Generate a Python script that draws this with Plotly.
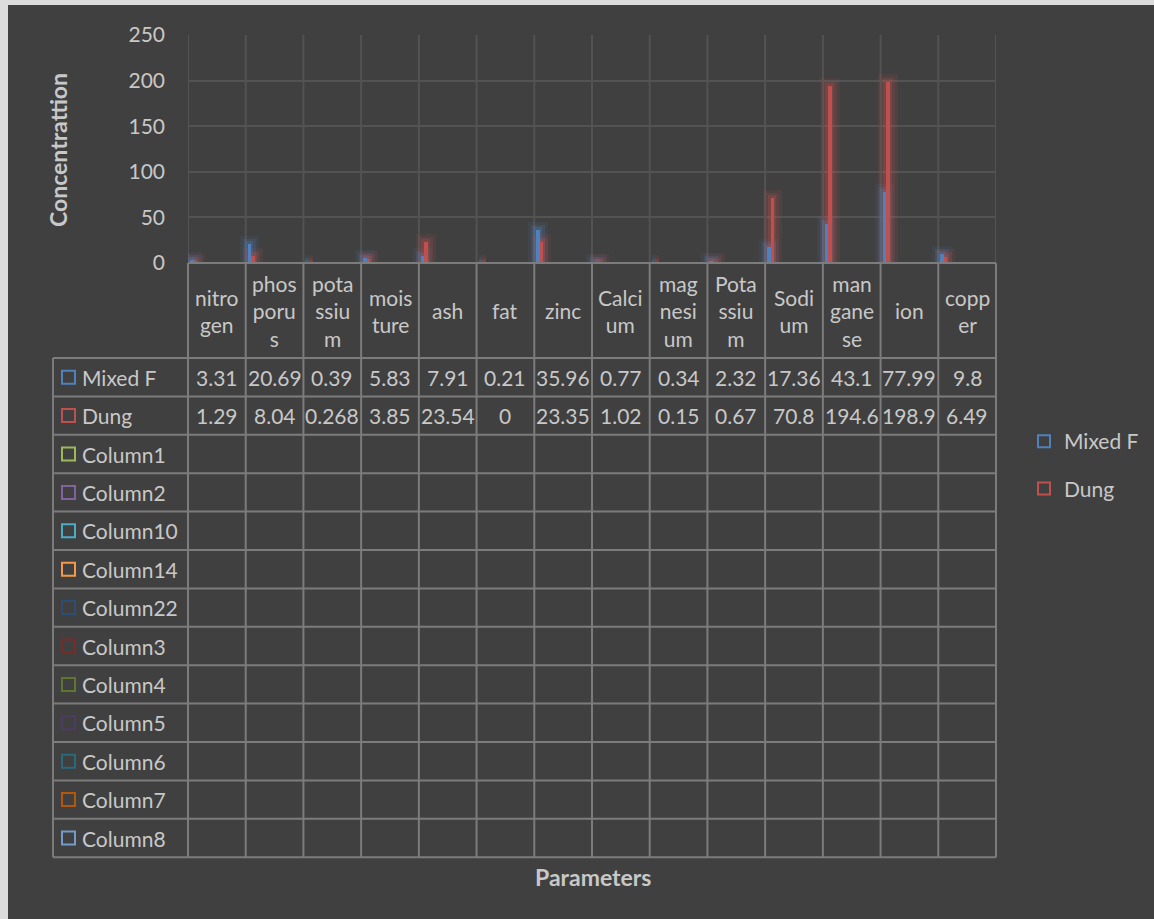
import plotly.graph_objects as go

# ---- data -------------------------------------------------------------
categories = ["nitrogen", "phosporus", "potassium", "moisture", "ash", "fat", "zinc",
              "Calcium", "magnesium", "Potassium", "Sodium", "manganese", "ion", "copper"]
header_labels = ["nitro<br>gen", "phos<br>poru<br>s", "pota<br>ssiu<br>m", "mois<br>ture",
                 "ash", "fat", "zinc", "Calci<br>um", "mag<br>nesi<br>um", "Pota<br>ssiu<br>m",
                 "Sodi<br>um", "man<br>gane<br>se", "ion", "copp<br>er"]
mixed_f = [3.31, 20.69, 0.39, 5.83, 7.91, 0.21, 35.96, 0.77, 0.34, 2.32, 17.36, 43.1, 77.99, 9.8]
dung = [1.29, 8.04, 0.268, 3.85, 23.54, 0, 23.35, 1.02, 0.15, 0.67, 70.8, 194.6, 198.9, 6.49]
table_rows = ["Mixed F", "Dung", "Column1", "Column2", "Column10", "Column14", "Column22",
              "Column3", "Column4", "Column5", "Column6", "Column7", "Column8"]
row_colors = ["#4F81BD", "#C0504D", "#9BBB59", "#8064A2", "#4BACC6", "#F79646", "#2C4D75",
              "#772C2A", "#5F7530", "#4D3B62", "#276A7C", "#B65708", "#729ACA"]
y_ticks = [0, 50, 100, 150, 200, 250]

# ---- geometry (pixels) ------------------------------------------------
W, H = 1154, 919
L, R, T, B = 188, 158, 35, 656
PW, PH = W - L - R, H - T - B
TABLE_LEFT = 53
HEADER_BOTTOM = 358
ROW_H = 38.4
TABLE_BOTTOM = HEADER_BOTTOM + ROW_H * len(table_rows)

BG = "#404040"
TXT = "#c8c8c8"
GRID = "#535353"
TLINE = "#7c7c7c"
FONT = "Lato"
FS = 21


def px(x):
    return (x - L) / PW


def py(y):
    return (T + PH - y) / PH


n = len(categories)
bar_w = 0.062
off_blue = -0.465
off_red = off_blue + bar_w

fig = go.Figure()

# soft glow behind each bar
for vals, col, off in [(mixed_f, "79,129,189", off_blue), (dung, "192,80,77", off_red)]:
    for lw, a in [(16, 0.10), (10, 0.16), (5, 0.25)]:
        fig.add_trace(go.Bar(
            x=categories, y=vals, width=bar_w, offset=off,
            marker=dict(color="rgba(0,0,0,0)", line=dict(color=f"rgba({col},{a})", width=lw)),
            showlegend=False, hoverinfo="skip"))

fig.add_trace(go.Bar(x=categories, y=mixed_f, width=bar_w, offset=off_blue, name="Mixed F",
                     marker=dict(color="#4F81BD", line=dict(width=0)), showlegend=False))
fig.add_trace(go.Bar(x=categories, y=dung, width=bar_w, offset=off_red, name="Dung",
                     marker=dict(color="#C0504D", line=dict(width=0)), showlegend=False))

# legend entries (hollow squares)
for name, col in [("Mixed F", "#4F81BD"), ("Dung", "#C0504D")]:
    fig.add_trace(go.Scatter(x=[None], y=[None], mode="markers", name=name, legendgroup=name,
                             marker=dict(symbol="square-open", size=13, color=col,
                                         line=dict(width=2, color=col))))

shapes = []
annotations = []

# page frame strips
shapes.append(dict(type="rect", xref="paper", yref="paper", x0=px(0), x1=px(8), y0=py(H), y1=py(0),
                   fillcolor="#dcdcdc", line=dict(width=0), layer="below"))
shapes.append(dict(type="rect", xref="paper", yref="paper", x0=px(0), x1=px(W), y0=py(5), y1=py(0),
                   fillcolor="#dcdcdc", line=dict(width=0), layer="below"))

# vertical gridlines at category boundaries
for i in range(n + 1):
    shapes.append(dict(type="line", xref="x", yref="paper", x0=i - 0.5, x1=i - 0.5, y0=0, y1=1,
                       line=dict(color=GRID, width=2), layer="below"))

# data table grid
col_x = [L + PW * i / n for i in range(n + 1)]
shapes.append(dict(type="line", xref="paper", yref="paper", x0=px(L), x1=px(L + PW),
                   y0=py(T + PH), y1=py(T + PH), line=dict(color=TLINE, width=2)))
for k in range(len(table_rows) + 1):
    yy = HEADER_BOTTOM + ROW_H * k
    shapes.append(dict(type="line", xref="paper", yref="paper", x0=px(TABLE_LEFT), x1=px(L + PW),
                       y0=py(yy), y1=py(yy), line=dict(color=TLINE, width=2)))
shapes.append(dict(type="line", xref="paper", yref="paper", x0=px(TABLE_LEFT), x1=px(TABLE_LEFT),
                   y0=py(HEADER_BOTTOM), y1=py(TABLE_BOTTOM), line=dict(color=TLINE, width=2)))
for xx in col_x:
    shapes.append(dict(type="line", xref="paper", yref="paper", x0=px(xx), x1=px(xx),
                       y0=py(T + PH), y1=py(TABLE_BOTTOM), line=dict(color=TLINE, width=2)))

# header row: category names
header_mid = (T + PH + HEADER_BOTTOM) / 2
for cat, lab in zip(categories, header_labels):
    annotations.append(dict(x=cat, xref="x", y=py(header_mid), yref="paper", text=lab,
                            showarrow=False, xanchor="center", yanchor="middle",
                            font=dict(size=FS, color=TXT, family=FONT)))

# row labels with hollow colour keys
for k, (name, col) in enumerate(zip(table_rows, row_colors)):
    yc = HEADER_BOTTOM + ROW_H * (k + 0.5)
    shapes.append(dict(type="rect", xref="paper", yref="paper", x0=px(62), x1=px(75),
                       y0=py(yc + 6.5), y1=py(yc - 6.5), line=dict(color=col, width=2),
                       fillcolor="rgba(0,0,0,0)"))
    annotations.append(dict(x=px(80), xref="paper", y=py(yc), yref="paper", text=name,
                            showarrow=False, xanchor="left", yanchor="middle",
                            font=dict(size=FS, color=TXT, family=FONT)))

# table values
for k, vals in enumerate([mixed_f, dung]):
    yc = HEADER_BOTTOM + ROW_H * (k + 0.5)
    for cat, v in zip(categories, vals):
        annotations.append(dict(x=cat, xref="x", y=py(yc), yref="paper", text=f"{v:g}",
                                showarrow=False, xanchor="center", yanchor="middle",
                                font=dict(size=FS, color=TXT, family=FONT)))

# axis titles
annotations.append(dict(x=px(58), xref="paper", y=py(150), yref="paper", text="<b>Concentrattion</b>",
                        textangle=-90, showarrow=False, xanchor="center", yanchor="middle",
                        font=dict(size=23, color=TXT, family=FONT)))
annotations.append(dict(x=px(593), xref="paper", y=py(877), yref="paper", text="<b>Parameters</b>",
                        showarrow=False, xanchor="center", yanchor="middle",
                        font=dict(size=23, color=TXT, family=FONT)))

fig.update_layout(
    width=W, height=H,
    margin=dict(l=L, r=R, t=T, b=B, pad=0, autoexpand=False),
    paper_bgcolor=BG, plot_bgcolor=BG,
    barmode="overlay", bargap=0,
    font=dict(family=FONT, size=FS, color=TXT),
    shapes=shapes, annotations=annotations,
    showlegend=True,
    legend=dict(x=px(1024), y=py(421), xanchor="left", yanchor="top",
                bgcolor="rgba(0,0,0,0)", font=dict(size=FS, color=TXT, family=FONT),
                traceorder="grouped", tracegroupgap=17, itemsizing="constant",
                itemwidth=30),
    xaxis=dict(type="category", categoryorder="array", categoryarray=categories,
               range=[-0.5, n - 0.5], showticklabels=False, showgrid=False,
               zeroline=False, showline=False, ticks=""),
    yaxis=dict(range=[0, 250], tickvals=y_ticks, showgrid=True, gridcolor=GRID, gridwidth=2,
               zeroline=False, showline=False, ticks="", ticklabelstandoff=22,
               tickfont=dict(size=FS, color=TXT, family=FONT)),
)

fig.write_html("out.html")
